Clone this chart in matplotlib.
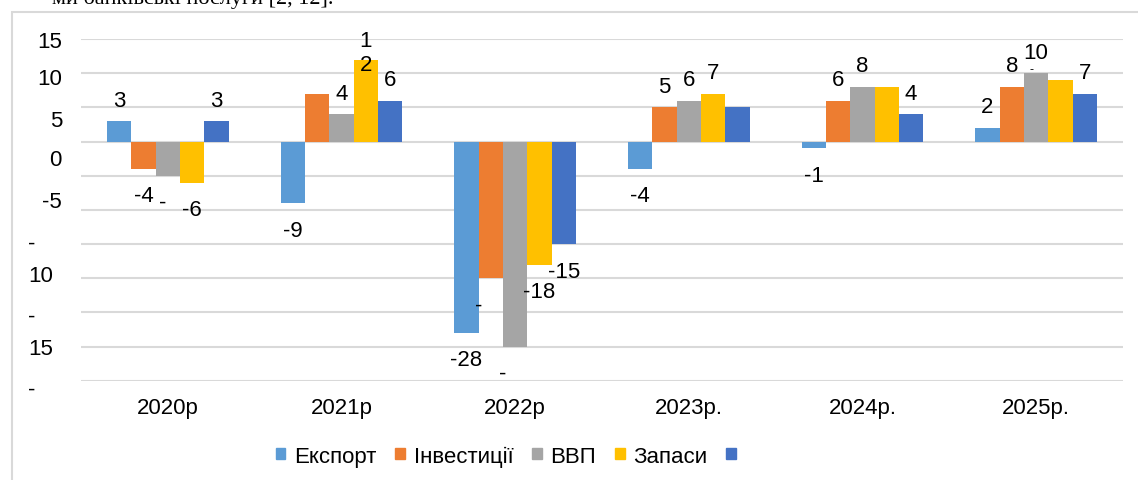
#Grouped bar chart: macro indicators by year (Ukrainian labels)
import numpy as np
import matplotlib.pyplot as plt
import matplotlib.transforms as mtransforms
from matplotlib.patches import Patch, Rectangle

plt.rcParams['font.family'] = ['Liberation Sans', 'DejaVu Sans']

years = ["2020р", "2021р", "2022р", "2023р.", "2024р.", "2025р."]
names = ["Експорт", "Інвестиції", "ВВП", "Запаси", ""]
colors = ["#5b9bd5", "#ed7d31", "#a5a5a5", "#ffc000", "#4472c4"]

export = [3, -9, -28, -4, -1, 2]
invest = [-4, 7, -20, 5, 6, 8]
gdp = [-5, 4, -30, 6, 8, 10]
stocks = [-6, 12, -18, 7, 8, 9]
other = [3, 6, -15, 5, 4, 7]

#data labels as they appear (some are broken in the source)
export_lbl = ["3", "-9", "-28", "-4", "-1", "2"]
invest_lbl = ["-4", "", "-", "5", "6", "8"]
gdp_lbl = ["-", "4", "-", "6", "8", "10"]
stocks_lbl = ["-6", "1\n2", "-18", "7", "", ""]
other_lbl = ["3", "6", "-15", "", "4", "7"]

#broken y tick labels
ytick_text = ["15", "10", "5", "0", "-5", "-", "10", "-", "15", "-"]
ytick_y = [14.7, 9.2, 3.1, -2.7, -8.8, -14.9, -19.6, -25.6, -30.3, -36.2]
ytick_right = [62, 62, 62, 62, 62, 35, 53, 35, 53, 35]

values = [export, invest, gdp, stocks, other]
labels = [export_lbl, invest_lbl, gdp_lbl, stocks_lbl, other_lbl]

W, H = 1138, 481
fig = plt.figure(figsize=(W/100, H/100), dpi=100)
ax = fig.add_axes([81/W, 1-381.7/H, 1042/W, (381.7-40)/H])

x = np.arange(len(years))
bw = 0.14
fs = 16
for i in range(5):
    pos = x + (i-2)*bw
    ax.bar(pos, values[i], bw, color=colors[i], zorder=3)
    for j in range(len(years)):
        t = labels[i][j]
        if t == "":
            continue
        v = values[i][j]
        dy = 21 if v >= 0 else -27
        dx = 0
        if t == "-":
            dx = -12 if j == 2 else -5
        if t == "1\n2":
            dy = 7
        ax.annotate(t, (pos[j], v), xytext=(dx, dy), textcoords='offset pixels',
                    ha='center', va='center', fontsize=fs, linespacing=1.2)

#small dash under the 10 label in 2025
ax.annotate("-", (x[5], gdp[5]), xytext=(-5, 4), textcoords='offset pixels',
            ha='center', va='center', fontsize=9)

ax.set_xlim(-0.5, 5.5)
ax.set_ylim(-35, 15)
ax.set_yticks(np.arange(-35, 16, 5))
ax.set_yticklabels([])
ax.grid(axis='y', color='#d9d9d9', lw=1.5, zorder=0)
ax.set_axisbelow(True)
for s in ax.spines.values():
    s.set_visible(False)
ax.tick_params(length=0)
ax.set_xticks(x)
ax.set_xticklabels(years, fontsize=fs)
ax.tick_params(axis='x', pad=12)

trans = mtransforms.blended_transform_factory(fig.transFigure, ax.transData)
for t, yv, xr in zip(ytick_text, ytick_y, ytick_right):
    ax.text(xr/W, yv, t, transform=trans, ha='right', va='center', fontsize=fs, clip_on=False)

handles = [Patch(color=c) for c in colors]
fig.legend(handles, names, loc='center left', bbox_to_anchor=(276/W, 1-457/H),
           ncol=5, frameon=False, fontsize=fs, handlelength=0.42, handleheight=0.42,
           handletextpad=0.4, columnspacing=0.85, borderpad=0, borderaxespad=0)

#chart frame and cropped document text above it
fig.patches.append(Rectangle((12/W, -0.1), 1.2, 1.1-13/H, transform=fig.transFigure,
                             fill=False, edgecolor='#d9d9d9', lw=1.5))
fig.text(333/W, 1-4/H, "ми банківські послуги [2, 12].", family='Liberation Serif',
         fontsize=16, ha='right', va='baseline')

plt.savefig("out.png")
